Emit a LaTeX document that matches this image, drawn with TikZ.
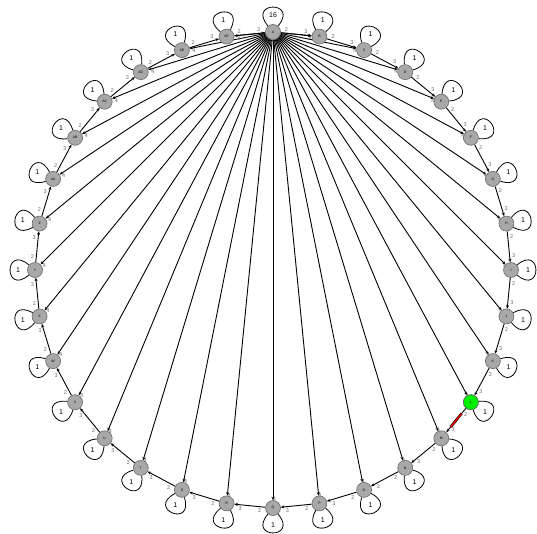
\documentclass[tikz,border=0pt]{standalone}
\usepackage{fontspec}
\setmainfont{Liberation Sans}
\usetikzlibrary{arrows.meta,calc,backgrounds}
\definecolor{nodegray}{RGB}{168,168,168}
\definecolor{nodeedge}{RGB}{105,105,105}
\definecolor{hilite}{RGB}{0,240,0}
\definecolor{labgray}{RGB}{110,110,110}
\begin{document}
\begin{tikzpicture}[x=1pt,y=1pt,
  vtx/.style={circle,draw=nodeedge,fill=nodegray,line width=0.6pt,minimum size=15pt,inner sep=0pt,font=\fontsize{3.5}{4}\selectfont},
  hot/.style={fill=hilite},
  edgeline/.style={line width=0.9pt,black,-{Stealth[length=3.5pt,width=3pt]}},
  elab/.style={font=\fontsize{5.5}{6}\selectfont,text=labgray,inner sep=0pt},
  llab/.style={font=\fontsize{7}{8}\selectfont,inner sep=0pt},
  loopline/.style={line width=0.8pt,black}]
\useasboundingbox (0,0) rectangle (537,533);
% vertices
\foreach \n [count=\i from 0] in {A,B,C,D,E,F,G,H,I,J,K,L,M,N,O,P,Q,R,S,T,U,V,W,X,Y,Z,AA,AB,AC,AD,AE,AF} {
  \pgfmathsetmacro\th{\i*11.25}
  \node[vtx] (\n) at ({273+238*sin(\th)},{263+238*cos(\th)}) {\n};
}
\node[vtx,hot] at (L) {L};
\begin{scope}[on background layer]
\fill[white] (0,0) rectangle (537,533);
% hub connectors
\foreach \n in {B,C,D,E,F,G,H,I,J,K,L,M,N,O,P,Q,R,S,T,U,V,W,X,Y,Z,AA,AB,AC,AD,AE,AF} {
  \draw[edgeline] (A) -- (\n);
  \node[elab] at ($(\n)!11pt!(A) + (1.5,-3)$) {4};
}
% ring connectors
\foreach \s/\t [count=\i from 0] in {A/B,B/C,C/D,D/E,E/F,F/G,G/H,H/I,I/J,J/K,K/L,L/M,M/N,N/O,O/P,P/Q,Q/R,R/S,S/T,T/U,U/V,V/W,W/X,X/Y,Y/Z,Z/AA,AA/AB,AB/AC,AC/AD,AD/AE,AE/AF,AF/A} {
  \pgfmathsetmacro\thm{(\i+0.5)*11.25}
  \draw[edgeline] (\s) -- (\t);
  \node[elab] at ($(\s)!13pt!(\t) + ({90-\thm}:4)$) {2};
  \node[elab] at ($(\t)!14pt!(\s) + ({90-\thm}:4)$) {3};
}
\draw[line width=2.6pt,black,shorten <=7pt,shorten >=7pt] (L) -- (M);
\draw[line width=1.4pt,red,shorten <=7pt,shorten >=7pt] (L) -- (M);
% self loops
\foreach \n [count=\i from 0] in {A,B,C,D,E,F,G,H,I,J,K,L,M,N,O,P,Q,R,S,T,U,V,W,X,Y,Z,AA,AB,AC,AD,AE,AF} {
  \pgfmathsetmacro\ph{90-\i*11.25}
  \draw[loopline] (\n.{\ph+40}) .. controls +({\ph+40}:33) and +({\ph-40}:33) .. (\n.{\ph-40});
}
\end{scope}
\foreach \n [count=\i from 0] in {A,B,C,D,E,F,G,H,I,J,K,L,M,N,O,P,Q,R,S,T,U,V,W,X,Y,Z,AA,AB,AC,AD,AE,AF} {
  \pgfmathsetmacro\ph{90-\i*11.25}
  \ifnum\i=0
    \node[llab] at ($(\n)+({\ph}:17)$) {16};
  \else
    \node[llab] at ($(\n)+({\ph}:17)$) {1};
  \fi
}
\end{tikzpicture}
\end{document}
